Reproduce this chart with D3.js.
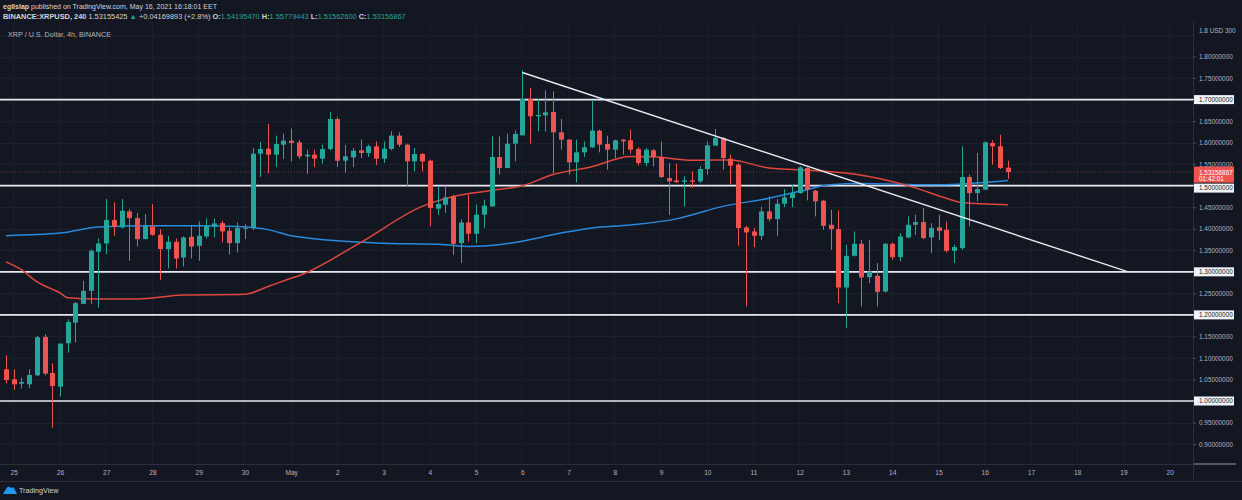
<!DOCTYPE html>
<html><head><meta charset="utf-8">
<script src="https://cdn.jsdelivr.net/npm/d3@7"></script>
<style>
html,body{margin:0;padding:0;background:#131722;overflow:hidden;}
svg{display:block;font-family:"Liberation Sans",Arial,sans-serif;}
</style></head><body>
<svg id="chart" width="1242" height="500"></svg>
<script>
// ---- data (XRP/USD 4h, Binance) ----
const opens=[1.0736,1.0504,1.0403,1.0388,1.0597,1.1488,1.0651,1.0333,1.1341,1.1822,1.2256,1.2558,1.3465,1.3659,1.4202,1.4031,1.4403,1.4248,1.3760,1.4054,1.3860,1.3527,1.3698,1.3333,1.3814,1.3605,1.3822,1.4054,1.4132,1.3953,1.3667,1.4000,1.4016,1.5744,1.5860,1.5721,1.5953,1.6047,1.6008,1.5682,1.5721,1.5628,1.5853,1.6550,1.5581,1.5659,1.5822,1.5760,1.5915,1.5628,1.5853,1.6163,1.5953,1.5566,1.5736,1.5581,1.4465,1.4558,1.4752,1.3667,1.4147,1.3884,1.4326,1.4519,1.5667,1.5411,1.5977,1.6171,1.7016,1.6612,1.6636,1.6713,1.6240,1.6070,1.5543,1.5775,1.5891,1.6279,1.5969,1.5837,1.6070,1.6054,1.5853,1.5527,1.5822,1.5667,1.5178,1.5124,1.5093,1.5124,1.5101,1.5388,1.5930,1.6109,1.5628,1.5488,1.4031,1.3938,1.3837,1.4403,1.4225,1.4581,1.4713,1.4829,1.5411,1.4884,1.4651,1.4093,1.3992,1.2636,1.3372,1.3651,1.2876,1.2907,1.2543,1.3651,1.3341,1.3798,1.4093,1.4155,1.3798,1.4031,1.3977,1.3488,1.3550,1.5202,1.4829,1.4907,1.5992,1.5915,1.54195470];
const highs=[1.1062,1.0736,1.0543,1.0736,1.1512,1.1550,1.0876,1.1333,1.1899,1.2302,1.2791,1.3527,1.3775,1.4690,1.4612,1.4690,1.4457,1.4364,1.4341,1.4574,1.3992,1.3837,1.3775,1.3822,1.4070,1.4171,1.4240,1.4240,1.4186,1.4031,1.4147,1.4109,1.5876,1.6016,1.6442,1.6163,1.6209,1.6326,1.6070,1.5837,1.5837,1.5953,1.6713,1.6597,1.5953,1.5876,1.6070,1.5953,1.6031,1.6031,1.6264,1.6240,1.5977,1.5876,1.5760,1.5605,1.4984,1.5000,1.4791,1.4225,1.4791,1.4558,1.4674,1.6147,1.6147,1.6209,1.6287,1.7680,1.7271,1.7016,1.7217,1.7194,1.6550,1.6085,1.6070,1.6031,1.6984,1.6302,1.6163,1.6070,1.6085,1.6302,1.5899,1.5876,1.5853,1.6031,1.5527,1.5512,1.5217,1.5333,1.5450,1.6031,1.6318,1.6132,1.5721,1.5527,1.4070,1.4016,1.4519,1.4752,1.4690,1.4922,1.5023,1.5450,1.5426,1.4907,1.4674,1.4442,1.4426,1.3628,1.3938,1.3744,1.3744,1.3202,1.3667,1.3682,1.3899,1.4287,1.4326,1.4481,1.4132,1.4326,1.4171,1.3628,1.5915,1.5256,1.5760,1.6031,1.6054,1.6186,1.55779443];
const lows=[1.0411,1.0256,1.0287,1.0295,1.0581,1.0597,0.9380,1.0101,1.1124,1.1357,1.2248,1.2248,1.2171,1.3411,1.3837,1.4008,1.3256,1.3589,1.3760,1.3837,1.2814,1.3078,1.3078,1.3124,1.3310,1.3256,1.3775,1.3798,1.3682,1.3403,1.3450,1.3760,1.3977,1.5202,1.5295,1.5434,1.5620,1.5566,1.5620,1.5279,1.5434,1.5512,1.5822,1.5434,1.5295,1.5434,1.5643,1.5667,1.5480,1.5527,1.5822,1.5899,1.4984,1.5333,1.5333,1.4054,1.4326,1.4364,1.3395,1.3202,1.3705,1.3667,1.4016,1.4519,1.5256,1.5411,1.5566,1.6163,1.5977,1.6264,1.6264,1.5295,1.5837,1.5256,1.5078,1.5667,1.5876,1.5775,1.5372,1.5643,1.5721,1.5744,1.5465,1.5450,1.5450,1.5178,1.4326,1.5062,1.4519,1.4946,1.5062,1.5256,1.5930,1.5372,1.5023,1.3605,1.2194,1.3574,1.3744,1.4171,1.3837,1.4504,1.4504,1.4814,1.4659,1.4287,1.3977,1.3512,1.2271,1.1690,1.3357,1.2194,1.2736,1.2194,1.2519,1.3279,1.3240,1.3783,1.3860,1.3760,1.3434,1.3744,1.3450,1.3202,1.3512,1.4054,1.4636,1.4907,1.5488,1.5388,1.51562600];
const closes=[1.0488,1.0388,1.0442,1.0605,1.1481,1.0636,1.0349,1.1333,1.1837,1.2271,1.2558,1.3488,1.3659,1.4202,1.4047,1.4419,1.4248,1.3760,1.4070,1.3860,1.3527,1.3698,1.3310,1.3798,1.3589,1.3837,1.4070,1.4124,1.3938,1.3667,1.4016,1.4023,1.5744,1.5853,1.5721,1.5969,1.6047,1.5992,1.5682,1.5721,1.5628,1.5853,1.6550,1.5581,1.5682,1.5814,1.5760,1.5915,1.5628,1.5860,1.6163,1.5953,1.5566,1.5736,1.5566,1.4481,1.4574,1.4729,1.3651,1.4147,1.3884,1.4326,1.4535,1.5667,1.5411,1.5977,1.6202,1.7016,1.6612,1.6643,1.6705,1.6240,1.6070,1.5543,1.5775,1.5891,1.6279,1.5953,1.5837,1.6054,1.6031,1.5837,1.5527,1.5837,1.5667,1.5202,1.5101,1.5085,1.5124,1.5093,1.5388,1.5938,1.6109,1.5643,1.5465,1.4016,1.3915,1.3837,1.4403,1.4225,1.4581,1.4729,1.4829,1.5426,1.4907,1.4636,1.4070,1.3992,1.2636,1.3372,1.3651,1.2868,1.3008,1.2535,1.3651,1.3341,1.3822,1.4093,1.4155,1.3783,1.4016,1.3953,1.3488,1.3574,1.5202,1.4829,1.4922,1.6008,1.5915,1.5411,1.53156867];
const firstBarTime=Date.UTC(2021,3,24,20); // first 4h bar
const barHours=4;

const redMaBars=[0,2,4,7,8,12,17,23,31,34,37,38,46,54,58,63,67,71,76,81,84,89,94,99,103,110,113,118,122,124,130];
const redMaValues=[1.323,1.305,1.277,1.251,1.240,1.237,1.237,1.246,1.248,1.266,1.285,1.291,1.368,1.452,1.475,1.489,1.500,1.526,1.544,1.568,1.567,1.559,1.560,1.541,1.537,1.527,1.518,1.495,1.471,1.461,1.456];
const blueMaBars=[0,7,12,19,25,30,34,37,48,57,60,66,72,76,81,87,93,99,103,107,111,120,124,130];
const blueMaValues=[1.384,1.390,1.404,1.407,1.407,1.405,1.398,1.384,1.367,1.363,1.359,1.368,1.390,1.402,1.409,1.423,1.452,1.471,1.487,1.502,1.505,1.502,1.504,1.512];

const levels=[1.7,1.5,1.3,1.2,1.0];
const priceTicks=[0.90,0.95,1.05,1.10,1.15,1.25,1.35,1.40,1.45,1.55,1.60,1.65,1.75,1.80];
const gridPrices=[0.90,0.95,1.00,1.05,1.10,1.15,1.20,1.25,1.30,1.35,1.40,1.45,1.50,1.55,1.60,1.65,1.70,1.75,1.80,1.85];
const dayTicks=d3.utcDays(new Date(Date.UTC(2021,3,25)), new Date(Date.UTC(2021,4,20,1)));
const trendTimes=[Date.UTC(2021,4,6,0), Date.UTC(2021,4,19,2,30)];
const trendPrices=[1.763,1.30];
const lastPrice=1.53156867, countdown="01:42:01";
const headerLine1=["egilslap"," published on TradingView.com, May 16, 2021 16:18:01 EET"];
const headerLine2={sym:"BINANCE:XRPUSD, 240",price:" 1.53155425 ",chg:" +0.04169893 (+2.8%) ",o:"1.54195470",h:"1.55779443",l:"1.51562600",c:"1.53156867"};
const legendText="XRP / U.S. Dollar, 4h, BINANCE";

// ---- layout ----
const W=1242,H=500, plotL=0, plotR=1193, plotT=22, plotB=464;
const bg="#131722", up="#26a69a", down="#ef5350", txt="#b2b5be", gridC="#1c202c";
const svg=d3.select("#chart");
svg.append("rect").attr("width",W).attr("height",H).attr("fill",bg);

const x=d3.scaleUtc().domain([new Date(Date.UTC(2021,3,25)),new Date(Date.UTC(2021,4,20))]).range([13.7,1169.7]);
const y=d3.scaleLinear().domain([1.0,1.7]).range([401,99.6]);
const barTime=i=>new Date(firstBarTime+i*barHours*3600e3);

svg.append("clipPath").attr("id","plot").append("rect").attr("x",plotL).attr("y",plotT).attr("width",plotR-plotL).attr("height",plotB-plotT);

// grid
const grid=svg.append("g").attr("clip-path","url(#plot)");
grid.selectAll("line.v").data(dayTicks).join("line").attr("x1",d=>x(d)).attr("x2",d=>x(d)).attr("y1",plotT).attr("y2",plotB).attr("stroke",gridC).attr("stroke-width",1);
grid.selectAll("line.h").data(gridPrices).join("line").attr("x1",plotL).attr("x2",plotR).attr("y1",d=>Math.round(y(d))+0.5).attr("y2",d=>Math.round(y(d))+0.5).attr("stroke",gridC).attr("stroke-width",1);

const plot=svg.append("g").attr("clip-path","url(#plot)");

// last price dotted line
plot.append("line").attr("x1",plotL).attr("x2",plotR).attr("y1",y(lastPrice)).attr("y2",y(lastPrice)).attr("stroke",down).attr("stroke-opacity",0.45).attr("stroke-dasharray","1,2");

// horizontal levels
plot.selectAll("line.lvl").data(levels).join("line").attr("x1",plotL).attr("x2",plotR).attr("y1",d=>y(d)).attr("y2",d=>y(d)).attr("stroke","#e6e8ee").attr("stroke-width",1.7);

// moving averages
const line=d3.line().curve(d3.curveMonotoneX).x(d=>x(barTime(d[0]))).y(d=>y(d[1]));
plot.append("path").attr("d",line(blueMaBars.map((b,i)=>[b,blueMaValues[i]]))).attr("fill","none").attr("stroke","#2a89dc").attr("stroke-width",1.5);
plot.append("path").attr("d",line(redMaBars.map((b,i)=>[b,redMaValues[i]]))).attr("fill","none").attr("stroke","#e0463d").attr("stroke-width",1.5);

// candles
const idx=d3.range(opens.length);
const cg=plot.append("g");
cg.selectAll("line.w").data(idx).join("line")
  .attr("x1",i=>Math.round(x(barTime(i)))+0.5).attr("x2",i=>Math.round(x(barTime(i)))+0.5)
  .attr("y1",i=>y(highs[i])).attr("y2",i=>y(lows[i]))
  .attr("stroke",i=>closes[i]>=opens[i]?up:down).attr("stroke-width",1);
cg.selectAll("rect.b").data(idx).join("rect")
  .attr("x",i=>Math.round(x(barTime(i)))-2).attr("width",5)
  .attr("y",i=>y(Math.max(opens[i],closes[i])))
  .attr("height",i=>Math.max(1,Math.abs(y(opens[i])-y(closes[i]))))
  .attr("fill",i=>closes[i]>=opens[i]?up:down);

// trend line
plot.append("line").attr("x1",x(new Date(trendTimes[0]))).attr("y1",y(trendPrices[0]))
  .attr("x2",x(new Date(trendTimes[1]))).attr("y2",y(trendPrices[1]))
  .attr("stroke","#e6e8ee").attr("stroke-width",1.4);

// legend
svg.append("text").attr("x",8).attr("y",36.5).attr("fill",txt).attr("font-size",7.2).text(legendText);

// price axis
svg.append("line").attr("x1",plotR+0.5).attr("x2",plotR+0.5).attr("y1",plotT).attr("y2",481).attr("stroke","#2a2e39");
const yAxis=d3.axisRight(y).tickValues(priceTicks).tickFormat(d3.format(".8f")).tickSizeInner(3).tickSizeOuter(0).tickPadding(3);
const ya=svg.append("g").attr("transform",`translate(${plotR},0)`).call(yAxis);
ya.select(".domain").remove();
ya.selectAll("line").attr("stroke","#4a4e59");
ya.selectAll("text").attr("fill",txt).attr("font-size",6.4).attr("font-family","Liberation Sans, Arial, sans-serif");
svg.append("text").attr("x",1199).attr("y",33).attr("fill",txt).attr("font-size",6.4).text("1.8 USD 300");

// last price label box
const lg=svg.append("g");
const lpTop=y(lastPrice)-5.5, lpBot=y(lastPrice)+10.5;
lg.append("rect").attr("x",plotR+1).attr("y",lpTop).attr("width",40).attr("height",lpBot-lpTop).attr("fill",down);
lg.append("text").attr("x",plotR+6).attr("y",y(lastPrice)+2.6).attr("fill","#fff").attr("font-size",6.4).text(d3.format(".8f")(lastPrice));
lg.append("text").attr("x",plotR+6).attr("y",y(lastPrice)+8.8).attr("fill","#fff").attr("font-size",6.4).text(countdown);
// level labels (pushed out of the last-price box when they collide)
levels.forEach(v=>{
  let top=y(v)-4.5;
  if(top<lpBot && top+9>lpTop) top=lpBot+1;
  lg.append("line").attr("x1",plotR).attr("x2",plotR+4).attr("y1",y(v)).attr("y2",y(v)).attr("stroke","#e6e8ee");
  lg.append("rect").attr("x",plotR+1).attr("y",top).attr("width",40).attr("height",9).attr("fill","#f0f3fa");
  lg.append("text").attr("x",plotR+6).attr("y",top+6.8).attr("fill","#131722").attr("font-size",6.4).text(d3.format(".8f")(v));
});

// time axis
svg.append("line").attr("x1",0).attr("x2",plotR).attr("y1",plotB+0.5).attr("y2",plotB+0.5).attr("stroke","#2a2e39");
svg.append("line").attr("x1",0).attr("x2",W).attr("y1",481.5).attr("y2",481.5).attr("stroke","#2a2e39");
svg.append("line").attr("x1",plotR+1).attr("x2",1236).attr("y1",plotB).attr("y2",plotB).attr("stroke","#9598a1").attr("stroke-width",1.2);
const xAxis=d3.axisBottom(x).tickValues(dayTicks).tickFormat(d=>d.getUTCDate()===1?"May":String(d.getUTCDate())).tickSize(0).tickPadding(6);
const xa=svg.append("g").attr("transform",`translate(0,${plotB})`).call(xAxis);
xa.select(".domain").remove();
xa.selectAll("text").attr("fill",txt).attr("font-size",6.6).attr("font-family","Liberation Sans, Arial, sans-serif");

// header
const h1=svg.append("text").attr("x",3).attr("y",9).attr("font-size",7.0).attr("fill","#d1d4dc");
h1.append("tspan").attr("font-weight","bold").text(headerLine1[0]);
h1.append("tspan").text(headerLine1[1]);
const h2=svg.append("text").attr("x",3).attr("y",19).attr("font-size",7.4).attr("fill","#d1d4dc");
h2.append("tspan").attr("font-weight","bold").text(headerLine2.sym);
h2.append("tspan").text(headerLine2.price);
h2.append("tspan").attr("fill",up).text("▲");
h2.append("tspan").text(headerLine2.chg);
[["O:",headerLine2.o],["H:",headerLine2.h],["L:",headerLine2.l],["C:",headerLine2.c]].forEach(([k,v],j)=>{
  h2.append("tspan").attr("font-weight","bold").text((j?" ":"")+k);
  h2.append("tspan").attr("fill",up).text(v);
});

// footer logo
const logo=svg.append("g").attr("transform","translate(3,485)");
logo.append("path").attr("d","M0,9 L3,4 Q5,0 8,3 Q11,1 12,5 L14,9 Z").attr("fill","#2196f3");
svg.append("text").attr("x",19).attr("y",492.5).attr("fill","#d1d4dc").attr("font-size",7.2).text("TradingView");
</script>
</body></html>
